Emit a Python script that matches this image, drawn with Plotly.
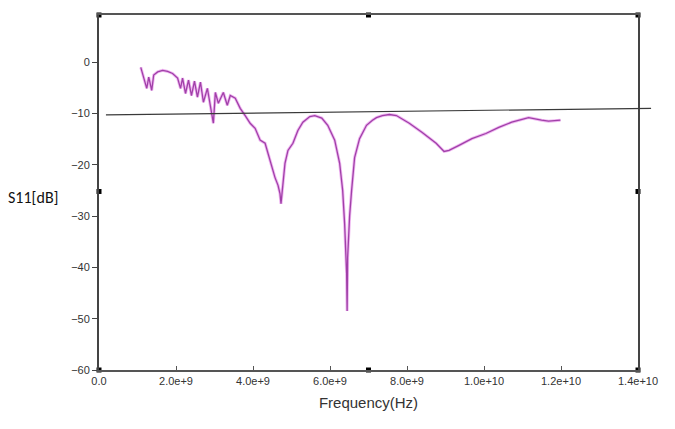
import plotly.graph_objects as go

# Measured S11 curve (frequency in GHz, S11 in dB)
freq_ghz = [1.085, 1.188, 1.240, 1.292, 1.369, 1.421, 1.524, 1.653, 1.782, 1.911,
            2.041, 2.118, 2.170, 2.247, 2.325, 2.402, 2.480, 2.557, 2.635, 2.712,
            2.815, 2.970, 3.022, 3.100, 3.229, 3.332, 3.410, 3.539, 3.668, 3.797,
            3.926, 4.055, 4.185, 4.314, 4.443, 4.572, 4.650, 4.701, 4.727, 4.779,
            4.831, 4.908, 5.037, 5.166, 5.295, 5.476, 5.605, 5.786, 5.941, 6.122,
            6.251, 6.329, 6.380, 6.432, 6.445, 6.458, 6.510, 6.561, 6.639, 6.768,
            6.948, 7.103, 7.207, 7.360, 7.543, 7.723, 8.059, 8.395, 8.757, 8.963,
            9.092, 9.351, 9.686, 10.048, 10.384, 10.720, 11.159, 11.495, 11.676, 11.986]
s11_db = [-1.0, -3.5, -5.1, -2.9, -5.5, -2.5, -1.9, -1.6, -1.8, -2.2,
          -3.1, -5.1, -3.1, -6.1, -3.5, -6.5, -3.7, -6.8, -3.9, -7.8,
          -5.1, -11.9, -5.9, -8.0, -5.9, -8.4, -6.5, -7.0, -9.0, -10.4,
          -11.9, -12.9, -15.2, -15.8, -19.2, -22.5, -24.0, -25.6, -27.6, -23.7,
          -19.7, -17.2, -15.8, -13.3, -11.7, -10.6, -10.4, -10.9, -12.3, -15.2,
          -19.7, -25.0, -31.5, -41.2, -48.5, -38.1, -29.9, -25.0, -18.6, -14.9,
          -12.3, -11.3, -10.8, -10.4, -10.2, -10.4, -11.9, -13.7, -15.8, -17.4,
          -17.2, -16.2, -14.9, -13.9, -12.7, -11.7, -10.8, -11.3, -11.5, -11.3]

# -10 dB reference line endpoints (Hz, dB)
ref_x = [0.18e9, 14.34e9]
ref_y = [-10.26, -8.99]

# Axis ticks
x_tickvals = [0, 2e9, 4e9, 6e9, 8e9, 1e10, 1.2e10, 1.4e10]
x_ticktext = ["0.0", "2.0e+9", "4.0e+9", "6.0e+9", "8.0e+9", "1.0e+10", "1.2e+10", "1.4e+10"]
y_tickvals = [0, -10, -20, -30, -40, -50, -60]

x_range = [0, 1.4e10]
y_range = [-60, 9.2]

# Frame handle squares (corners and mid-edges)
handle_x = [0, 7e9, 1.4e10, 0, 1.4e10, 0, 7e9, 1.4e10]
handle_y = [9.2, 9.2, 9.2, -25.2, -25.2, -60, -60, -60]

freq_hz = [f * 1e9 for f in freq_ghz]

fig = go.Figure()
fig.add_trace(go.Scatter(x=freq_hz, y=s11_db, mode="lines",
                         line=dict(color="#e27be6", width=3), opacity=0.55,
                         hoverinfo="skip", showlegend=False))
fig.add_trace(go.Scatter(x=freq_hz, y=s11_db, mode="lines",
                         line=dict(color="#a040a8", width=1.3), showlegend=False))
fig.add_trace(go.Scatter(x=handle_x, y=handle_y, mode="markers",
                         marker=dict(symbol="square", size=5, color="black"),
                         cliponaxis=False, showlegend=False))

fig.add_shape(type="line", xref="paper", yref="y",
              x0=ref_x[0] / x_range[1], x1=ref_x[1] / x_range[1],
              y0=ref_y[0], y1=ref_y[1],
              line=dict(color="#3a3a3a", width=1.2))

fig.update_layout(
    width=675, height=429,
    margin=dict(l=99, r=37, t=15, b=59),
    paper_bgcolor="white", plot_bgcolor="white",
    font=dict(family="Liberation Sans, Arial, sans-serif", size=11, color="#333"),
    xaxis=dict(range=x_range, tickvals=x_tickvals, ticktext=x_ticktext,
               showgrid=False, zeroline=False, showline=True, mirror=True,
               linecolor="#555", linewidth=1.5, ticks="inside", ticklen=4,
               tickcolor="#555", title=dict(text="Frequency(Hz)",
               font=dict(size=15, color="#333"), standoff=12)),
    yaxis=dict(range=y_range, tickvals=y_tickvals,
               showgrid=False, zeroline=False, showline=True, mirror=True,
               linecolor="#444", linewidth=2, ticks="outside", ticklen=5,
               tickcolor="#444"),
    annotations=[dict(text="S11[dB]", xref="paper", yref="paper",
                      x=-0.172, y=0.485, xanchor="left", yanchor="middle",
                      showarrow=False,
                      font=dict(family="Carlito, Liberation Sans, sans-serif",
                                size=16, color="#111"))],
)

fig.write_html("out.html", config={"displayModeBar": False},
               post_script="document.body.style.margin='0';")
